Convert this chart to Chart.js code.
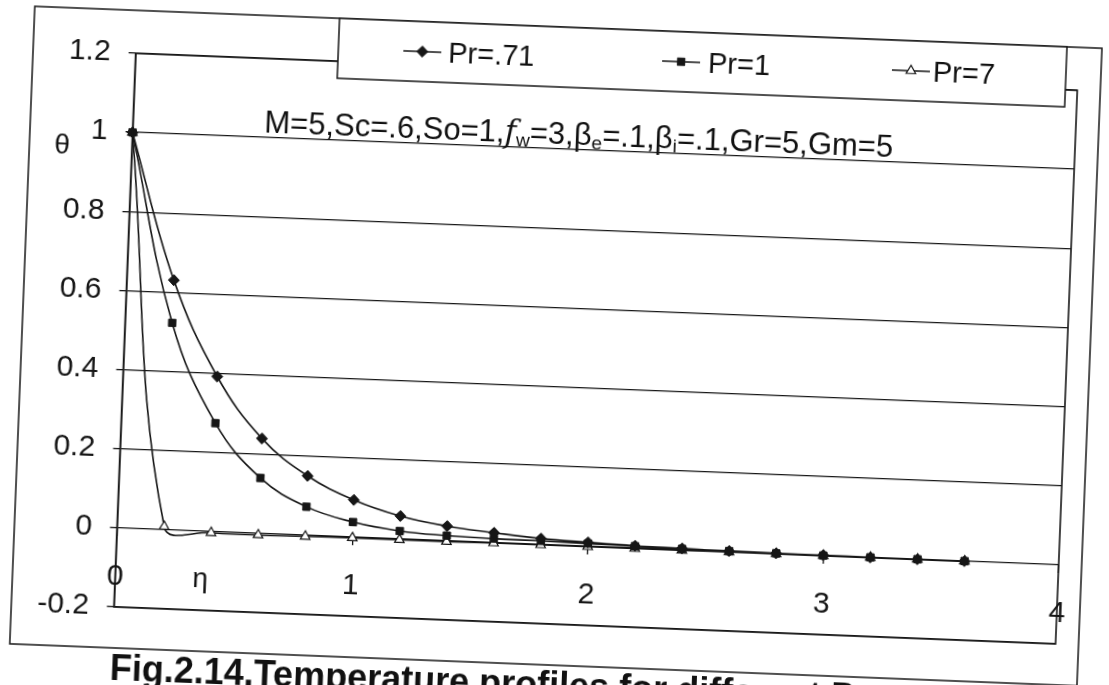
<!DOCTYPE html>
<html>
<head>
<meta charset="utf-8">
<script src="https://cdn.jsdelivr.net/npm/chart.js@4.4.1/dist/chart.umd.min.js"></script>
<style>
html,body{margin:0;padding:0;background:#fff;overflow:hidden;width:1109px;height:685px;}
#wrap{position:absolute;left:0;top:0;width:1109px;height:685px;transform:rotate(2.25deg);transform-origin:554.5px 342.5px;}
#c{position:absolute;left:0;top:0;width:1109px;height:685px;}
.t{position:absolute;white-space:nowrap;font-family:'Liberation Sans',Arial,sans-serif;color:#111;line-height:1;}
.t sub{font-size:0.62em;vertical-align:-0.22em;line-height:0;}
.fw{font-family:'DejaVu Serif',serif;font-style:italic;}
#cap{font-family:'Liberation Sans Narrow','Arial Narrow','Liberation Sans',sans-serif;font-weight:bold;}
</style>
</head>
<body>
<div id="wrap">
  <canvas id="c" width="1109" height="685"></canvas>
  <div class="t" id="ann" style="left:256px;top:118px;font-size:31px">M=5,Sc=.6,So=1,<span class="fw">f</span><sub>w</sub>=3,β<sub>e</sub>=.1,β<sub>i</sub>=.1,Gr=5,Gm=5</div>
  <div class="t" id="lg0" style="left:437px;top:42.5px;font-size:29px"></div>
  <div class="t" id="lg1" style="left:697px;top:42.5px;font-size:29px"></div>
  <div class="t" id="lg2" style="left:922px;top:42.5px;font-size:29px"></div>
  <div class="t" id="ylab" style="left:47px;top:150px;font-size:28px">θ</div>
  <div class="t" id="xlab" style="left:202px;top:578px;font-size:28px">η</div>
  <div class="t" id="cap" style="left:123px;top:667px;font-size:36px">Fig.2.14.Temperature profiles for different Pr</div>
</div>
<script>
// ---- data ----
const eta = [0, 0.2, 0.4, 0.6, 0.8, 1.0, 1.2, 1.4, 1.6, 1.8, 2.0, 2.2, 2.4, 2.6, 2.8, 3.0, 3.2, 3.4, 3.6];
const thetaPr071 = [1, 0.631, 0.392, 0.240, 0.150, 0.094, 0.058, 0.037, 0.025, 0.015, 0.010, 0.006, 0.004, 0.002, 0.001, 0.001, 0.000, 0.000, 0.000];
const thetaPr1   = [1, 0.523, 0.274, 0.140, 0.072, 0.038, 0.020, 0.013, 0.010, 0.009, 0.007, 0.005, 0.003, 0.002, 0.001, 0.000, 0.000, 0.000, 0.000];
const thetaPr7   = [1, 0.008, -0.003, -0.004, -0.003, -0.002, -0.002, -0.002, -0.001, -0.001, -0.001, -0.001, -0.001, 0.000, 0.000, 0.000, 0.000, 0.000, 0.000];
const seriesNames = ['Pr=.71', 'Pr=1', 'Pr=7'];
const xTickLabels = ['0', '1', '2', '3', '4'];
const yTickLabels = ['-0.2', '0', '0.2', '0.4', '0.6', '0.8', '1', '1.2'];

const INK = '#161616';
const FONT = "'Liberation Sans', Arial, sans-serif";
Chart.defaults.font.family = FONT;
Chart.defaults.color = INK;

function pts(ys) { return eta.map((x, i) => ({ x: x, y: ys[i] })); }

const styles = [
  { pointStyle: 'rectRot', pointRadius: 5.5, bg: INK, bw: 1 },
  { pointStyle: 'rect', pointRadius: 5.2, bg: INK, bw: 1 },
  { pointStyle: 'triangle', pointRadius: 5.5, bg: '#ffffff', bw: 1.2 }
];
const series = [thetaPr071, thetaPr1, thetaPr7];

const datasets = series.map((ys, i) => ({
  label: seriesNames[i],
  data: pts(ys),
  borderColor: INK,
  borderWidth: 1.6,
  tension: 0.4,
  pointStyle: styles[i].pointStyle,
  pointRadius: styles[i].pointRadius,
  pointBackgroundColor: styles[i].bg,
  pointBorderColor: INK,
  pointBorderWidth: styles[i].bw,
  clip: false,
  fill: false
}));

function drawMarker(ctx, style, r, x, y, bg, bw) {
  ctx.save();
  ctx.fillStyle = bg; ctx.strokeStyle = INK; ctx.lineWidth = bw;
  ctx.beginPath();
  if (style === 'rectRot') {
    const s = r;
    ctx.moveTo(x, y - s); ctx.lineTo(x + s, y); ctx.lineTo(x, y + s); ctx.lineTo(x - s, y); ctx.closePath();
  } else if (style === 'rect') {
    const s = r * Math.SQRT1_2;
    ctx.rect(x - s, y - s, 2 * s, 2 * s);
  } else {
    const side = r * 3 / Math.sqrt(3), h = side * Math.sqrt(3) / 2;
    ctx.moveTo(x, y - 2 * h / 3); ctx.lineTo(x + side / 2, y + h / 3); ctx.lineTo(x - side / 2, y + h / 3); ctx.closePath();
  }
  ctx.fill(); ctx.stroke();
  ctx.restore();
}

const legendItems = [
  { x0: 392, x1: 430 },
  { x0: 651, x1: 689 },
  { x0: 881, x1: 919 }
];

const decor = {
  id: 'decor',
  beforeDraw(chart) {
    const ctx = chart.ctx;
    ctx.save();
    ctx.fillStyle = '#fff';
    ctx.fillRect(0, 0, chart.width, chart.height);
    ctx.strokeStyle = INK; ctx.lineWidth = 1.5;
    ctx.strokeRect(22, 27, 1068, 638);
    ctx.restore();
  },
  afterDatasetsDraw(chart) {
    const ctx = chart.ctx, a = chart.chartArea;
    ctx.save();
    ctx.strokeStyle = INK; ctx.lineWidth = 1.6;
    ctx.strokeRect(a.left, a.top, a.right - a.left, a.bottom - a.top);
    // legend box
    ctx.fillStyle = '#fff';
    ctx.fillRect(327, 27, 728, 60);
    ctx.lineWidth = 1.5;
    ctx.strokeRect(327, 27, 728, 60);
    const ly = 57;
    chart.data.datasets.forEach((ds, i) => {
      const it = legendItems[i];
      ctx.beginPath(); ctx.lineWidth = 1.6; ctx.strokeStyle = INK;
      ctx.moveTo(it.x0, ly); ctx.lineTo(it.x1, ly); ctx.stroke();
      drawMarker(ctx, ds.pointStyle, ds.pointRadius, (it.x0 + it.x1) / 2, ly, ds.pointBackgroundColor, ds.pointBorderWidth);
    });
    ctx.restore();
  }
};

seriesNames.forEach((n, i) => { document.getElementById('lg' + i).textContent = n; });

new Chart(document.getElementById('c'), {
  type: 'line',
  data: { datasets: datasets },
  plugins: [decor],
  options: {
    responsive: false,
    animation: false,
    devicePixelRatio: 1,
    layout: { padding: { left: 0, top: 70, right: 42, bottom: 61 } },
    plugins: { legend: { display: false }, tooltip: { enabled: false } },
    scales: {
      x: {
        type: 'linear', min: 0, max: 4,
        position: { y: 0 },
        ticks: {
          stepSize: 1, autoSkip: false, maxRotation: 0,
          font: { size: 30 }, color: INK, padding: 23,
          callback: (v, i) => xTickLabels[i]
        },
        grid: { drawOnChartArea: false, drawTicks: true, tickLength: 8, color: INK, lineWidth: 1.3 },
        border: { display: false }
      },
      y: {
        type: 'linear', min: -0.2, max: 1.2,
        ticks: {
          stepSize: 0.2, autoSkip: false,
          font: { size: 30 }, color: INK, padding: 18,
          callback: (v, i) => yTickLabels[i]
        },
        grid: { color: INK, lineWidth: 1.3, drawTicks: true, tickLength: 7 },
        border: { color: INK, width: 1.6 },
        afterFit: (s) => { s.width = 124.6; }
      }
    }
  }
});
</script>
</body>
</html>
